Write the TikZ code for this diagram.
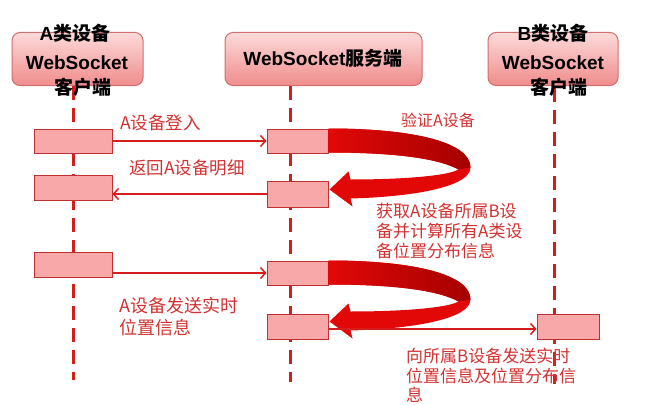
\documentclass[tikz,border=0pt]{standalone}
\usepackage{fontspec}
\setmainfont{Liberation Sans}
\newfontfamily\cjk{Noto Sans CJK SC}
\usetikzlibrary{arrows.meta}
\definecolor{lbl}{RGB}{210,50,50}
\definecolor{lline}{RGB}{212,30,30}
\definecolor{actfill}{RGB}{248,168,168}
\definecolor{actdraw}{RGB}{192,48,48}
\definecolor{hdtop}{RGB}{252,218,218}
\definecolor{hdbot}{RGB}{240,140,140}
\definecolor{hddraw}{RGB}{210,110,110}
\definecolor{ribbon}{RGB}{226,8,8}
\definecolor{ribbondark}{RGB}{165,0,0}
\tikzset{
  headbox/.style={rounded corners=8pt, top color=hdtop, bottom color=hdbot, draw=hddraw, line width=1pt, inner sep=0},
  headtxt/.style={inner sep=0, text=black, font=\fontsize{19}{22}\selectfont\bfseries},
  lifeline/.style={draw=lline, line width=3pt, dash pattern=on 14pt off 8pt},
  actbox/.style={draw=actdraw, fill=actfill, line width=1pt, inner sep=0},
  msg/.style={draw=lline, line width=1.5pt, -{Straight Barb[length=5pt,width=11pt]}},
  lbltxt/.style={inner sep=0, text=lbl, align=left, font=\cjk\fontsize{17.5}{21}\selectfont},
}
\newcommand{\myribbon}{%
  \fill[ribbon] (0,0) .. controls (82,0) and (142,13) .. (142,39)
     .. controls (142,57) and (92,68) .. (22,70) -- (24,78) -- (1,61) -- (20,43) -- (22,51)
     .. controls (77,51) and (120,47) .. (130,41)
     .. controls (112,31) and (72,24) .. (0,24) -- cycle;
  \shade[left color=ribbon, right color=ribbondark] (0,0) .. controls (82,0) and (142,13) .. (142,39)
     -- (130,41) .. controls (112,31) and (72,24) .. (0,24) -- cycle;
}
\begin{document}
\begin{tikzpicture}[x=1pt,y=-1pt]
\useasboundingbox (0,0) rectangle (650,404);
% header boxes
\node[headbox, minimum width=131, minimum height=53] (hA) at (77.5,59) {};
\node[headbox, minimum width=197, minimum height=53] (hS) at (323.5,59) {};
\node[headbox, minimum width=130, minimum height=53] (hB) at (553,59) {};
% lifelines
\coordinate (lA0) at (73,86);  \coordinate (lA1) at (73,380);
\coordinate (lS0) at (290,86); \coordinate (lS1) at (290,382);
\coordinate (lB0) at (554,88); \coordinate (lB1) at (554,384);
\draw[lifeline] (lA0) -- (lA1);
\draw[lifeline] (lS0) -- (lS1);
\draw[lifeline] (lB0) -- (lB1);
% header texts
\node[headtxt] (tA1) at (75,33) {A{\cjk 类设备}};
\node[headtxt] (tA2) at (77,63) {WebSocket};
\node[headtxt] (tA3) at (83,87) {\cjk 客户端};
\node[headtxt] (tS) at (323,58) {WebSocket{\cjk 服务端}};
\node[headtxt] (tB1) at (553,33) {B{\cjk 类设备}};
\node[headtxt] (tB2) at (553,63) {WebSocket};
\node[headtxt] (tB3) at (559,87) {\cjk 客户端};
% activation boxes
\node[actbox, minimum width=78, minimum height=24] (a1) at (73,141) {};
\node[actbox, minimum width=78, minimum height=25] (a2) at (73,187.5) {};
\node[actbox, minimum width=78, minimum height=25] (a3) at (73,264.5) {};
\node[actbox, minimum width=61, minimum height=24] (s1) at (297.5,141) {};
\node[actbox, minimum width=61, minimum height=26] (s2) at (297.5,194) {};
\node[actbox, minimum width=61, minimum height=24] (s3) at (297.5,273) {};
\node[actbox, minimum width=61, minimum height=25] (s4) at (297.5,326.5) {};
\node[actbox, minimum width=62, minimum height=25] (b1) at (568,326.5) {};
% ribbons (self calls)
\begin{scope}[shift={(s1.north east)}] \myribbon \end{scope}
\begin{scope}[shift={(s3.north east)}] \myribbon \end{scope}
% messages
\draw[msg] (a1.east) -- (s1.west);
\draw[msg] (s2.west) -- (s2.west -| a2.east);
\draw[msg] (a3.east |- s3.west) -- (s3.west);
\draw[msg] ([yshift=-2.5pt]s4.east) -- ([yshift=-2.5pt]b1.west);
% labels
\node[lbltxt, anchor=west] (m1) at (120,123) {A设备登入};
\node[lbltxt, anchor=west] (m2) at (129,168) {返回A设备明细};
\node[lbltxt, anchor=west, font=\cjk\fontsize{16}{19}\selectfont] (m3) at (401,120) {验证A设备};
\node[lbltxt, anchor=north west, font=\cjk\fontsize{17}{20}\selectfont] (m4) at (376,203) {获取A设备所属B设\\备并计算所有A类设\\备位置分布信息};
\node[lbltxt, anchor=north west, font=\cjk\fontsize{18}{22}\selectfont] (m5) at (119,297) {A设备发送实时\\位置信息};
\node[lbltxt, anchor=north west, font=\cjk\fontsize{17}{19.5}\selectfont] (m6) at (406,348) {向所属B设备发送实时\\位置信息及位置分布信\\息};
\end{tikzpicture}
\end{document}
